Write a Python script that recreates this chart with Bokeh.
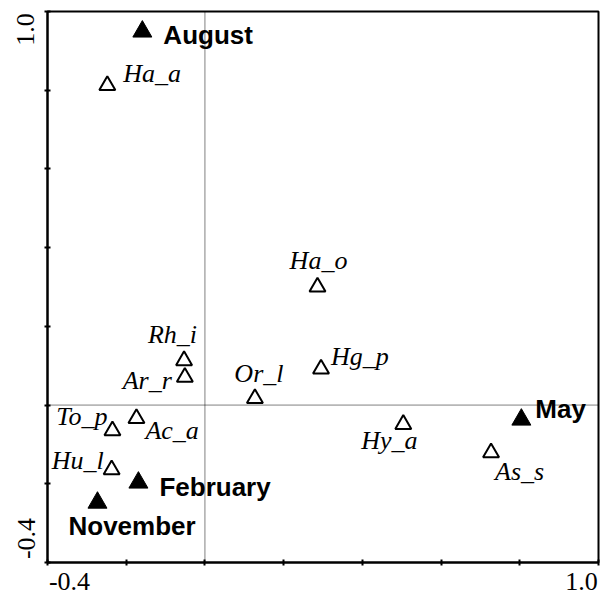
import math
from bokeh.plotting import figure
from bokeh.models import Range1d, FixedTicker, Span, ColumnDataSource
from bokeh.core.properties import value
from bokeh.embed import file_html
from bokeh.resources import INLINE

# ---- data ----
months = ["August", "May", "February", "November"]
month_x = [-0.159, 0.804, -0.169, -0.273]
month_y = [0.949, -0.037, -0.197, -0.248]

species = ["Ha_a", "Ha_o", "Rh_i", "Ar_r", "Or_l", "Hg_p", "Hy_a", "As_s", "To_p", "Ac_a", "Hu_l"]
species_x = [-0.248, 0.286, -0.053, -0.051, 0.127, 0.295, 0.504, 0.727, -0.235, -0.174, -0.237]
species_y = [0.812, 0.300, 0.113, 0.071, 0.017, 0.092, -0.049, -0.121, -0.065, -0.034, -0.164]

tick_values = [-0.4, -0.2, 0.0, 0.2, 0.4, 0.6, 0.8, 1.0]
x_tick_labels = ["-0.4", "1.0"]
y_tick_labels = ["-0.4", "1.0"]

# ---- layout / style ----
W, H = 605, 595
ML, MR, MT, MB = 47, 7, 11, 33
FRAME_W = W - ML - MR
FRAME_H = H - MT - MB

# label offsets (screen px, +y down), text baseline "middle"
month_dx = [21, 14, 21, -29]
month_dy = [3, -11, 4, 23]
month_align = ["left", "left", "left", "left"]

sp_dx = [16, 1, 13, -13, 4, 10, -14, 4, -5, 9, -8]
sp_dy = [-12, -27, -26, 3, -25, -12, 16, 19, -14, 12, -9]
sp_align = ["left", "center", "right", "right", "center", "left", "center", "left", "right", "left", "right"]

# end-label shift inward from the axis ends (px)
x_label_shift = [22, -17]
y_label_shift = [24, -18]

xr = Range1d(-0.4, 1.0)
yr = Range1d(-0.4, 1.0)

p = figure(width=W, height=H, output_backend="svg", toolbar_location=None,
           x_range=xr, y_range=yr,
           min_border_left=ML, min_border_right=MR, min_border_top=MT, min_border_bottom=MB)
p.xgrid.visible = False
p.ygrid.visible = False
p.background_fill_color = "white"
p.border_fill_color = "white"
p.outline_line_color = "black"
p.outline_line_width = 2

x_upp = (xr.end - xr.start) / FRAME_W
y_upp = (yr.end - yr.start) / FRAME_H
x_label_pos = [round(xr.start + x_label_shift[0] * x_upp, 5), round(xr.end + x_label_shift[1] * x_upp, 5)]
y_label_pos = [round(yr.start + y_label_shift[0] * y_upp, 5), round(yr.end + y_label_shift[1] * y_upp, 5)]

for ax, pos, labs in ((p.xaxis[0], x_label_pos, x_tick_labels), (p.yaxis[0], y_label_pos, y_tick_labels)):
    ax.ticker = FixedTicker(ticks=pos, minor_ticks=tick_values)
    ax.major_label_overrides = {v: t for v, t in zip(pos, labs)}
    ax.major_label_text_font = "Liberation Serif"
    ax.major_label_text_font_size = "26px"
    ax.major_label_text_color = "black"
    ax.axis_line_width = 2
    ax.axis_line_color = "black"
    ax.major_tick_line_color = None
    ax.major_tick_in = 0
    ax.major_tick_out = 0
    ax.minor_tick_line_color = "black"
    ax.minor_tick_line_width = 2
    ax.minor_tick_in = 3
    ax.minor_tick_out = 3

p.xaxis[0].major_label_standoff = 7
p.yaxis[0].major_label_standoff = 10
p.yaxis[0].major_label_orientation = "parallel"

p.add_layout(Span(location=0, dimension="width", line_color="black", line_width=1,
                  line_dash="1 1", level="underlay"))
p.add_layout(Span(location=0, dimension="height", line_color="black", line_width=1,
                  line_dash="1 1", level="underlay"))

ms = ColumnDataSource(dict(x=month_x, y=month_y, t=months, dx=month_dx, dy=month_dy, al=month_align))
ss = ColumnDataSource(dict(x=species_x, y=species_y, t=species, dx=sp_dx, dy=sp_dy, al=sp_align))

p.scatter("x", "y", source=ss, marker="triangle", size=16, fill_color="white",
          line_color="black", line_width=2)
p.scatter("x", "y", source=ms, marker="triangle", size=19, fill_color="black",
          line_color="black", line_width=1)

p.text("x", "y", text="t", source=ms, x_offset="dx", y_offset="dy", text_align="al",
       text_baseline="middle", text_font=value("Liberation Sans"), text_font_style="bold",
       text_font_size="26px", text_color="black")
p.text("x", "y", text="t", source=ss, x_offset="dx", y_offset="dy", text_align="al",
       text_baseline="middle", text_font=value("Liberation Serif"), text_font_style="italic",
       text_font_size="26px", text_color="black")

open("out.html", "w").write(file_html(p, INLINE))
